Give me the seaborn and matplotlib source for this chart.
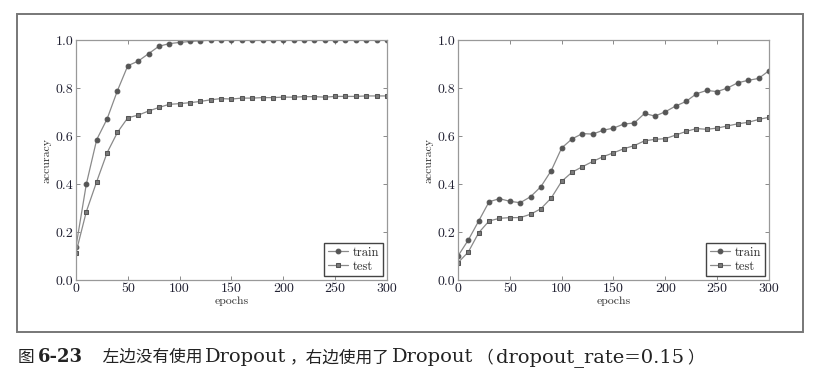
import pandas as pd
import matplotlib.pyplot as plt
import seaborn as sns
from matplotlib.patches import Rectangle

# accuracy, one value every 10 epochs
epochs = list(range(0, 301, 10))

train_no_dropout = [0.139, 0.40, 0.585, 0.671, 0.789, 0.893, 0.912, 0.943, 0.974, 0.985,
                    0.990, 0.994, 0.997, 0.999, 0.999, 1.0, 1.0, 1.0, 1.0, 1.0,
                    1.0, 1.0, 1.0, 1.0, 1.0, 1.0, 1.0, 1.0, 1.0, 1.0, 1.0]
test_no_dropout = [0.114, 0.285, 0.410, 0.530, 0.615, 0.676, 0.687, 0.704, 0.719, 0.732,
                   0.735, 0.739, 0.744, 0.751, 0.756, 0.754, 0.758, 0.758, 0.760, 0.760,
                   0.762, 0.762, 0.764, 0.764, 0.762, 0.765, 0.765, 0.765, 0.767, 0.767, 0.767]

train_dropout = [0.100, 0.167, 0.246, 0.326, 0.339, 0.328, 0.322, 0.347, 0.389, 0.456,
                 0.550, 0.588, 0.610, 0.608, 0.624, 0.633, 0.650, 0.654, 0.694, 0.683,
                 0.701, 0.725, 0.744, 0.776, 0.790, 0.785, 0.800, 0.822, 0.832, 0.840, 0.872]
test_dropout = [0.072, 0.117, 0.197, 0.246, 0.257, 0.260, 0.260, 0.274, 0.297, 0.342,
                0.411, 0.449, 0.472, 0.494, 0.514, 0.530, 0.547, 0.560, 0.580, 0.586,
                0.589, 0.604, 0.619, 0.631, 0.628, 0.633, 0.642, 0.651, 0.657, 0.669, 0.678]

x_ticks = [0, 50, 100, 150, 200, 250, 300]
y_ticks = [0.0, 0.2, 0.4, 0.6, 0.8, 1.0]

# caption pieces: (text, kind)
caption_parts = [("图", "cjk"), ("6-23", "bold"), ("　左边没有使用", "cjk"), ("Dropout", "latin"),
                 ("，右边使用了", "cjk"), ("Dropout", "latin"), ("（", "cjk"),
                 ("dropout_rate=0.15", "latin"), ("）", "cjk")]

sns.set_theme(style="ticks")
plt.rcParams['font.family'] = ['cmr10', 'Noto Sans CJK SC']
plt.rcParams['axes.formatter.use_mathtext'] = True
plt.rcParams['axes.unicode_minus'] = False

fig = plt.figure(figsize=(8.24, 3.79), dpi=100)

# outer frame around both panels
fig.patches.append(Rectangle((0.0206, 0.124), 0.954, 0.839, transform=fig.transFigure,
                             fill=False, edgecolor='#777777', linewidth=1.4))

ax1 = fig.add_axes([0.0922, 0.2612, 0.3774, 0.6332])
ax2 = fig.add_axes([0.5558, 0.2612, 0.3774, 0.6332])

panels = [(ax1, train_no_dropout, test_no_dropout), (ax2, train_dropout, test_dropout)]
for ax, tr, te in panels:
    df = pd.DataFrame({'epochs': epochs, 'train': tr, 'test': te})
    sns.lineplot(data=df, x='epochs', y='train', ax=ax, color='#8a8a8a', linewidth=0.9,
                 marker='o', markersize=3.4, markerfacecolor='#555555', markeredgecolor='#555555',
                 label='train')
    sns.lineplot(data=df, x='epochs', y='test', ax=ax, color='#8a8a8a', linewidth=0.9,
                 marker='s', markersize=3.4, markerfacecolor='#7a7a7a', markeredgecolor='#555555',
                 label='test')
    ax.set_xlim(0, 300)
    ax.set_ylim(0, 1.0)
    ax.set_xticks(x_ticks)
    ax.set_yticks(y_ticks)
    ax.set_xticklabels([str(t) for t in x_ticks])
    ax.set_yticklabels([f"{t:.1f}" for t in y_ticks])
    ax.tick_params(direction='in', length=3, width=0.6, color='#777777',
                   labelsize=10, labelcolor='#222233', top=True, right=True, pad=2)
    for s in ax.spines.values():
        s.set_color('#999999')
        s.set_linewidth(0.9)
        s.set_visible(True)
    ax.set_xlabel('epochs', fontsize=8.5, color='#333333', labelpad=1)
    ax.set_ylabel('accuracy', fontsize=8.5, color='#333333', labelpad=3)
    leg = ax.legend(loc='lower right', fontsize=9, frameon=True, fancybox=False,
                    handlelength=1.6, handletextpad=0.4, borderpad=0.3,
                    labelspacing=0.15, borderaxespad=0.3)
    leg.get_frame().set_edgecolor('#444444')
    leg.get_frame().set_linewidth(1.0)
    leg.get_frame().set_alpha(1)

# caption below the frame: pieces one after another on a common baseline
styles = {
    'cjk': dict(fontsize=12, family=['Noto Sans CJK SC']),
    'latin': dict(fontsize=14, family=['DejaVu Serif']),
    'bold': dict(fontsize=13, family=['DejaVu Serif'], fontweight='bold'),
}
fig.canvas.draw()
renderer = fig.canvas.get_renderer()
x_px = 18.0
base_y = 0.045
for text, kind in caption_parts:
    if kind != 'cjk':
        x_px += 3
    t = fig.text(x_px / 824, base_y, text, color='#222222', va='baseline', ha='left',
                 **styles[kind])
    x_px += t.get_window_extent(renderer).width
    if kind != 'cjk':
        x_px += 3

fig.savefig('out.png', dpi=100)
